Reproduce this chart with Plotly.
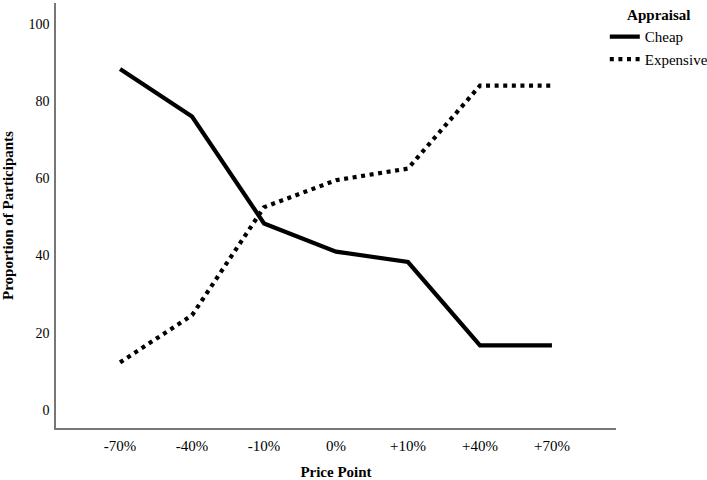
import plotly.graph_objects as go

categories = ["-70%", "-40%", "-10%", "0%", "+10%", "+40%", "+70%"]
cheap = [88.3, 76, 48.3, 41, 38.3, 16.7, 16.7]
expensive = [12.3, 24.5, 52.5, 59.5, 62.5, 84, 84]
y_ticks = [0, 20, 40, 60, 80, 100]

xpos = list(range(len(categories)))
serif = "Liberation Serif, Times New Roman, serif"

fig = go.Figure()
fig.add_trace(go.Scatter(x=xpos, y=cheap, mode="lines", name="Cheap",
                         line=dict(color="black", width=4.2)))
fig.add_trace(go.Scatter(x=xpos, y=expensive, mode="lines", name="Expensive",
                         line=dict(color="black", width=4.2, dash="4px,4.6px")))

fig.update_layout(
    width=707, height=480,
    margin=dict(l=56, r=91, t=3, b=52, autoexpand=False),
    paper_bgcolor="white", plot_bgcolor="white",
    font=dict(family=serif, size=15, color="black"),
    showlegend=True,
    legend=dict(
        title=dict(text="<b>Appraisal</b>", side="top center", font=dict(size=15)),
        x=0.98, xanchor="left", y=1.005, yanchor="top",
        bgcolor="rgba(0,0,0,0)", font=dict(size=15),
        tracegroupgap=0, itemwidth=30,
    ),
    xaxis=dict(
        range=[-0.89, 6.89], tickvals=xpos, ticktext=categories,
        showline=True, linecolor="#777777", linewidth=1.5,
        showgrid=False, zeroline=False, automargin=False,
        ticks="outside", ticklen=3, tickcolor="rgba(0,0,0,0)",
        tickfont=dict(size=15),
        title=dict(text="<b>Price Point</b>", font=dict(size=15), standoff=14),
    ),
    yaxis=dict(
        range=[-4.7, 105.4], tickvals=y_ticks,
        showline=True, linecolor="#777777", linewidth=1.5,
        showgrid=False, zeroline=False, automargin=False,
        ticks="outside", ticklen=2, tickcolor="rgba(0,0,0,0)",
        tickfont=dict(size=14),
        title=dict(text="<b>Proportion of Participants</b>", font=dict(size=15), standoff=14),
    ),
)

fig.write_html("out.html")
